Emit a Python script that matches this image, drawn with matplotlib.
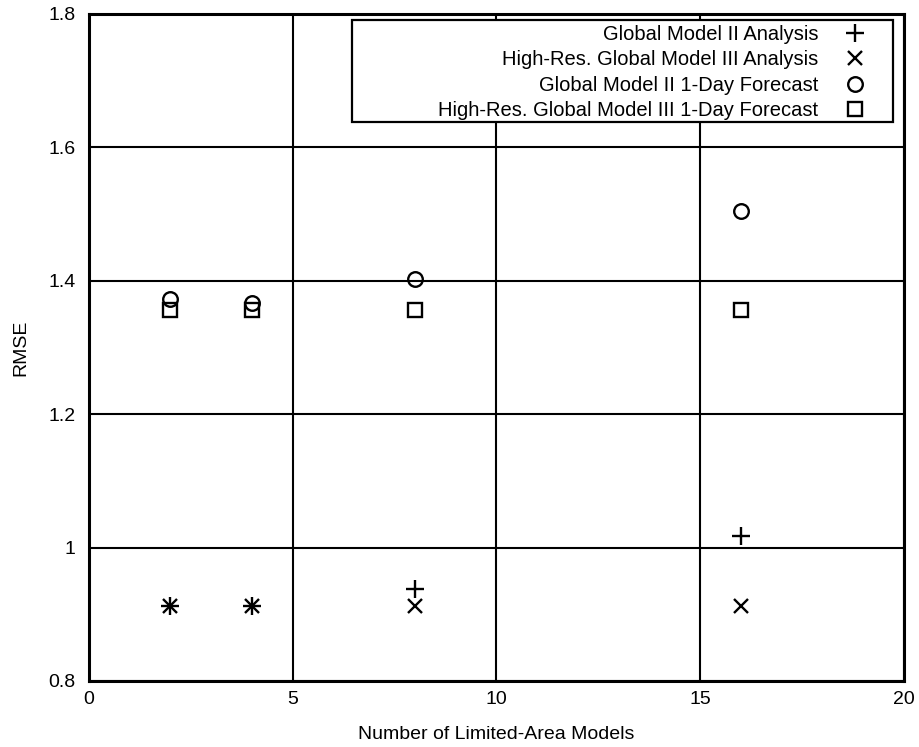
import matplotlib
matplotlib.use("Agg")
import matplotlib.pyplot as plt
from matplotlib.patches import Rectangle
from matplotlib.ticker import FormatStrFormatter

plt.rcParams['font.family'] = ['Liberation Sans', 'DejaVu Sans']

n_models = [2, 4, 8, 16]
gm2_analysis = [0.913, 0.913, 0.938, 1.018]
gm3_analysis = [0.913, 0.913, 0.913, 0.913]
gm2_forecast = [1.372, 1.366, 1.403, 1.505]
gm3_forecast = [1.356, 1.356, 1.356, 1.356]

labels = ['Global Model II Analysis',
          'High-Res. Global Model III Analysis',
          'Global Model II 1-Day Forecast',
          'High-Res. Global Model III 1-Day Forecast']

fig = plt.figure(figsize=(9.2, 7.47), dpi=100)
ax = fig.add_axes([0.0967, 0.0884, 0.8859, 0.8929])

mk = dict(linestyle='none', color='black', markerfacecolor='none', markeredgewidth=1.7)
ax.plot(n_models, gm2_analysis, marker='+', markersize=13, label=labels[0], **mk)
ax.plot(n_models, gm3_analysis, marker='x', markersize=10.5, label=labels[1], **mk)
ax.plot(n_models, gm2_forecast, marker='o', markersize=10.5, label=labels[2], **mk)
ax.plot(n_models, gm3_forecast, marker='s', markersize=10, label=labels[3], **mk)

ax.set_xlim(0, 20)
ax.set_ylim(0.8, 1.8)
ax.set_xticks([0, 5, 10, 15, 20])
ax.set_yticks([0.8, 1.0, 1.2, 1.4, 1.6, 1.8])
ax.yaxis.set_major_formatter(FormatStrFormatter('%g'))
ax.grid(True, color='black', linewidth=1.5)
ax.set_axisbelow(True)
ax.tick_params(length=0, labelsize=14)
ax.tick_params(axis='y', pad=9.5)
ax.tick_params(axis='x', pad=7)
for s in ax.spines.values():
    s.set_linewidth(2.2)

ax.set_xlabel('Number of Limited-Area Models', fontsize=14, labelpad=13)
ax.set_ylabel('RMSE', fontsize=14, labelpad=14)

# legend box drawn separately (gnuplot style: text right-aligned, marker after)
ax.add_patch(Rectangle((0.3227, 0.838), 0.6638, 0.153, transform=ax.transAxes,
                       facecolor='white', edgecolor='black', linewidth=1.6, zorder=4))
leg = ax.legend(loc='upper right', bbox_to_anchor=(0.952, 0.9835), markerfirst=False,
                fontsize=14.5, frameon=False, borderpad=0, labelspacing=0.32,
                handlelength=1.0, handletextpad=1.3, borderaxespad=0)
leg.set_zorder(5)
for col in leg._legend_handle_box.get_children():
    col.align = 'right'

fig.savefig('out.png', dpi=100)
